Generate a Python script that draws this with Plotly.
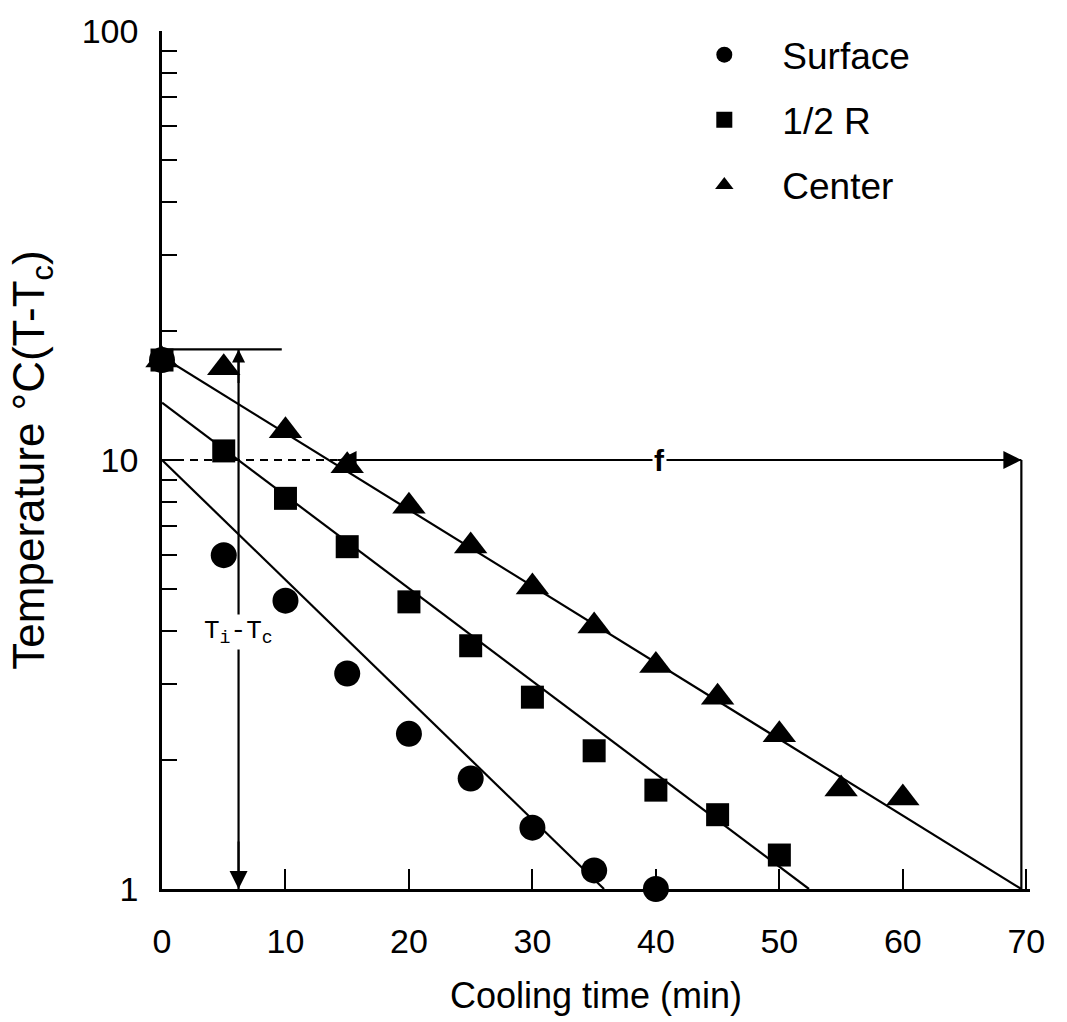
import numpy as np
import plotly.graph_objects as go

# ---- data ----
time_surface = [0, 5, 10, 15, 20, 25, 30, 35, 40]
temp_surface = [17.1, 6.0, 4.7, 3.18, 2.30, 1.81, 1.39, 1.105, 1.0]

time_half = [0, 5, 10, 15, 20, 25, 30, 35, 40, 45, 50]
temp_half = [17.1, 10.5, 8.14, 6.28, 4.67, 3.69, 2.80, 2.10, 1.70, 1.49, 1.20]

time_center = [0, 5, 10, 15, 20, 25, 30, 35, 40, 45, 50, 55, 60]
temp_center = [17.1, 16.4, 11.7, 9.7, 7.8, 6.3, 5.06, 4.10, 3.32, 2.80, 2.29, 1.71, 1.63]

fit_surface_x = [0, 35.8]
fit_surface_y = [10, 1]
fit_half_x = [0, 52.4]
fit_half_y = [13.6, 1]
fit_center_x = [0, 69.6]
fit_center_y = [17.4, 1]

# construction lines
ti_x = 6.2          # time of the Ti-Tc marker line
ti_top = 18.1       # Ti-Tc level
ti_bar_end = 9.7
f_start = 14.2      # where centre line crosses 10
f_end = 69.6
ref_level = 10

x_ticks = [0, 10, 20, 30, 40, 50, 60, 70]
y_ticks = [1, 10, 100]
y_ticktext = ["1", "10", "100"]
y_minor = [2, 3, 4, 5, 6, 7, 8, 9, 20, 30, 40, 50, 60, 70, 80, 90]

FONT = "Arial, Liberation Sans, sans-serif"

fig = go.Figure()

line_style = dict(color="black", width=2.2)

for fx, fy in [(fit_surface_x, fit_surface_y), (fit_half_x, fit_half_y), (fit_center_x, fit_center_y)]:
    fig.add_trace(go.Scatter(x=fx, y=fy, mode="lines", line=line_style,
                             showlegend=False, hoverinfo="skip", cliponaxis=False))

# construction lines
fig.add_trace(go.Scatter(x=[0, f_start], y=[ref_level, ref_level], mode="lines",
                         line=dict(color="black", width=2, dash="8px,6px"),
                         showlegend=False, hoverinfo="skip"))
fig.add_trace(go.Scatter(x=[f_start, f_end], y=[ref_level, ref_level], mode="lines",
                         line=line_style, showlegend=False, hoverinfo="skip"))
fig.add_trace(go.Scatter(x=[f_end, f_end], y=[1, ref_level], mode="lines",
                         line=line_style, showlegend=False, hoverinfo="skip"))
fig.add_trace(go.Scatter(x=[ti_x, ti_x], y=[1, ti_top], mode="lines",
                         line=line_style, showlegend=False, hoverinfo="skip"))
fig.add_trace(go.Scatter(x=[0, ti_bar_end], y=[ti_top, ti_top], mode="lines",
                         line=line_style, showlegend=False, hoverinfo="skip",
                         cliponaxis=False))

marker_line = dict(color="black", width=0)
fig.add_trace(go.Scatter(x=time_surface, y=temp_surface, mode="markers", name="Surface",
                         legendgroup="a",
                         marker=dict(symbol="circle", size=26, color="black", line=marker_line),
                         cliponaxis=False))
fig.add_trace(go.Scatter(x=time_half, y=temp_half, mode="markers", name="1/2 R",
                         legendgroup="b",
                         marker=dict(symbol="square", size=23, color="black", line=marker_line),
                         cliponaxis=False))
fig.add_trace(go.Scatter(x=time_center, y=temp_center, mode="markers", name="Center",
                         legendgroup="c",
                         marker=dict(symbol="triangle-up", size=29, color="black", line=marker_line),
                         cliponaxis=False))

annotations = []
def arrow(x, y, ax, ay, size=1.8):
    annotations.append(dict(x=x, y=np.log10(y), ax=ax, ay=np.log10(ay), xref="x", yref="y",
                            axref="x", ayref="y", text="", showarrow=True,
                            arrowhead=2, arrowsize=size, arrowwidth=2, arrowcolor="black"))

arrow(f_end, ref_level, f_end - 4, ref_level)
arrow(f_start + 0.1, ref_level, f_start + 4, ref_level)
arrow(ti_x, 1, ti_x, 1.3)
arrow(ti_x, ti_top, ti_x, 15, size=1.3)

annotations.append(dict(x=40.3, y=np.log10(ref_level), xref="x", yref="y", text="<b>f</b>",
                        showarrow=False, bgcolor="white",
                        font=dict(family=FONT, size=30, color="black")))
annotations.append(dict(x=ti_x, y=np.log10(3.97), xref="x", yref="y",
                        text="T<sub>i</sub>-T<sub>c</sub>", showarrow=False, bgcolor="white",
                        font=dict(family="Courier New, Liberation Mono, monospace", size=26, color="black")))

fig.update_layout(
    width=1067, height=1022,
    margin=dict(l=162, r=37, t=23, b=130),
    paper_bgcolor="white", plot_bgcolor="white",
    font=dict(family=FONT, size=34, color="black"),
    showlegend=True,
    legend=dict(x=0.581, y=1.008, xanchor="left", yanchor="top",
                font=dict(family=FONT, size=37, color="black"),
                tracegroupgap=14, itemwidth=106, bgcolor="rgba(0,0,0,0)"),
    annotations=annotations,
)

fig.update_xaxes(
    range=[0, 70.3], showline=True, linecolor="black", linewidth=2.5,
    ticks="inside", ticklen=20, tickwidth=2, tickcolor="black",
    tickvals=x_ticks, showgrid=False, zeroline=False, mirror=False,
    ticklabelstandoff=20,
    title=dict(text="Cooling time (min)", font=dict(family=FONT, size=36), standoff=25),
)
fig.update_yaxes(
    type="log", range=[0, 2], showline=True, linecolor="black", linewidth=2.5,
    ticks="inside", ticklen=20, tickwidth=2, tickcolor="black",
    tickvals=y_ticks, ticktext=y_ticktext, showgrid=False, zeroline=False,
    ticklabelstandoff=14,
    minor=dict(ticks="inside", ticklen=15, tickwidth=2, tickcolor="black",
               tickmode="array", tickvals=y_minor, showgrid=False),
    title=dict(text="Temperature °C(T-T<sub>c</sub>)", font=dict(family=FONT, size=44), standoff=24),
)

fig.write_html("out.html")
